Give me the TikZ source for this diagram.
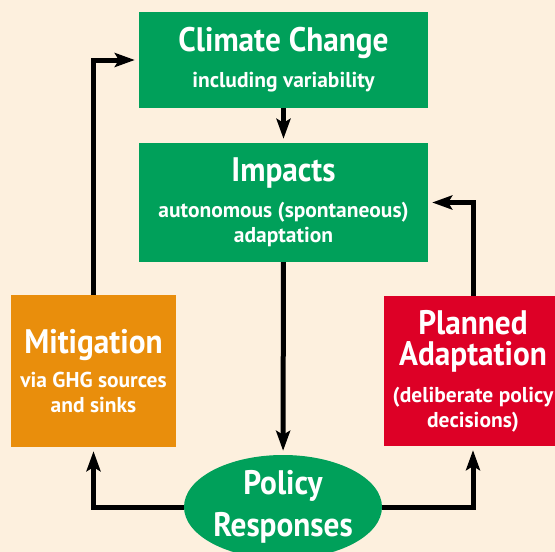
\documentclass[tikz,border=0pt]{standalone}
\usepackage{fontspec}
\setmainfont{PT Sans}
\newfontfamily\headfont{PT Sans}[FakeStretch=0.92]
\usepackage{tikz}
\usetikzlibrary{arrows.meta, shapes.geometric}
\usepackage{xcolor}
\definecolor{Paper}{RGB}{253, 240, 222}
\definecolor{LeafGreen}{RGB}{0, 160, 90}
\definecolor{Amber}{RGB}{233, 142, 12}
\definecolor{Crimson}{RGB}{221, 0, 38}

\newcommand{\ttl}{\headfont\fontsize{34}{36}\selectfont\bfseries}

\begin{document}
\begin{tikzpicture}[
  x=1pt, y=-1pt,
  box/.style={%
    rectangle, text=white,
    font=\fontsize{21.5}{25}\selectfont\bfseries,
    align=center, inner sep=0pt},
  arr/.style={-{Stealth[length=20pt, width=14pt, inset=4pt]},
    line width=5pt, shorten >=4pt}
]
\fill[Paper] (0,0) rectangle (555,552);
\useasboundingbox (0,0) rectangle (555,552);

\node[box, fill=LeafGreen, minimum width=289pt, minimum height=96pt]
  (clim) at (283.5,60) {{\ttl Climate Change}\\[11pt]including variability};
\node[box, fill=LeafGreen, minimum width=289pt, minimum height=119pt]
  (imp) at (283.5,202.5) {{\ttl Impacts}\\[11pt]autonomous (spontaneous)\\adaptation};
\node[box, fill=Amber, minimum width=165pt, minimum height=152pt]
  (mitig) at (93.5,371) {{\ttl Mitigation}\\[9pt]via GHG sources\\and sinks};
\node[box, fill=Crimson, minimum width=178pt, minimum height=150pt]
  (plan) at (473,371) {{\ttl Planned}\\[6pt]{\ttl Adaptation}\\[12pt](deliberate policy\\decisions)};
\node[box, ellipse, fill=LeafGreen, minimum width=198pt, minimum height=104pt]
  (policy) at (283,507) {{\ttl Policy}\\[10pt]{\ttl Responses}};

\draw[arr] (clim) -- (imp);
\draw[arr] (imp) -- (policy);
\draw[arr] (policy.west) -| (mitig.south);
\draw[arr] (mitig.north) |- (clim.west);
\draw[arr] (policy.east) -| (plan.south);
\draw[arr] (plan.north) |- (imp.east);
\end{tikzpicture}
\end{document}
